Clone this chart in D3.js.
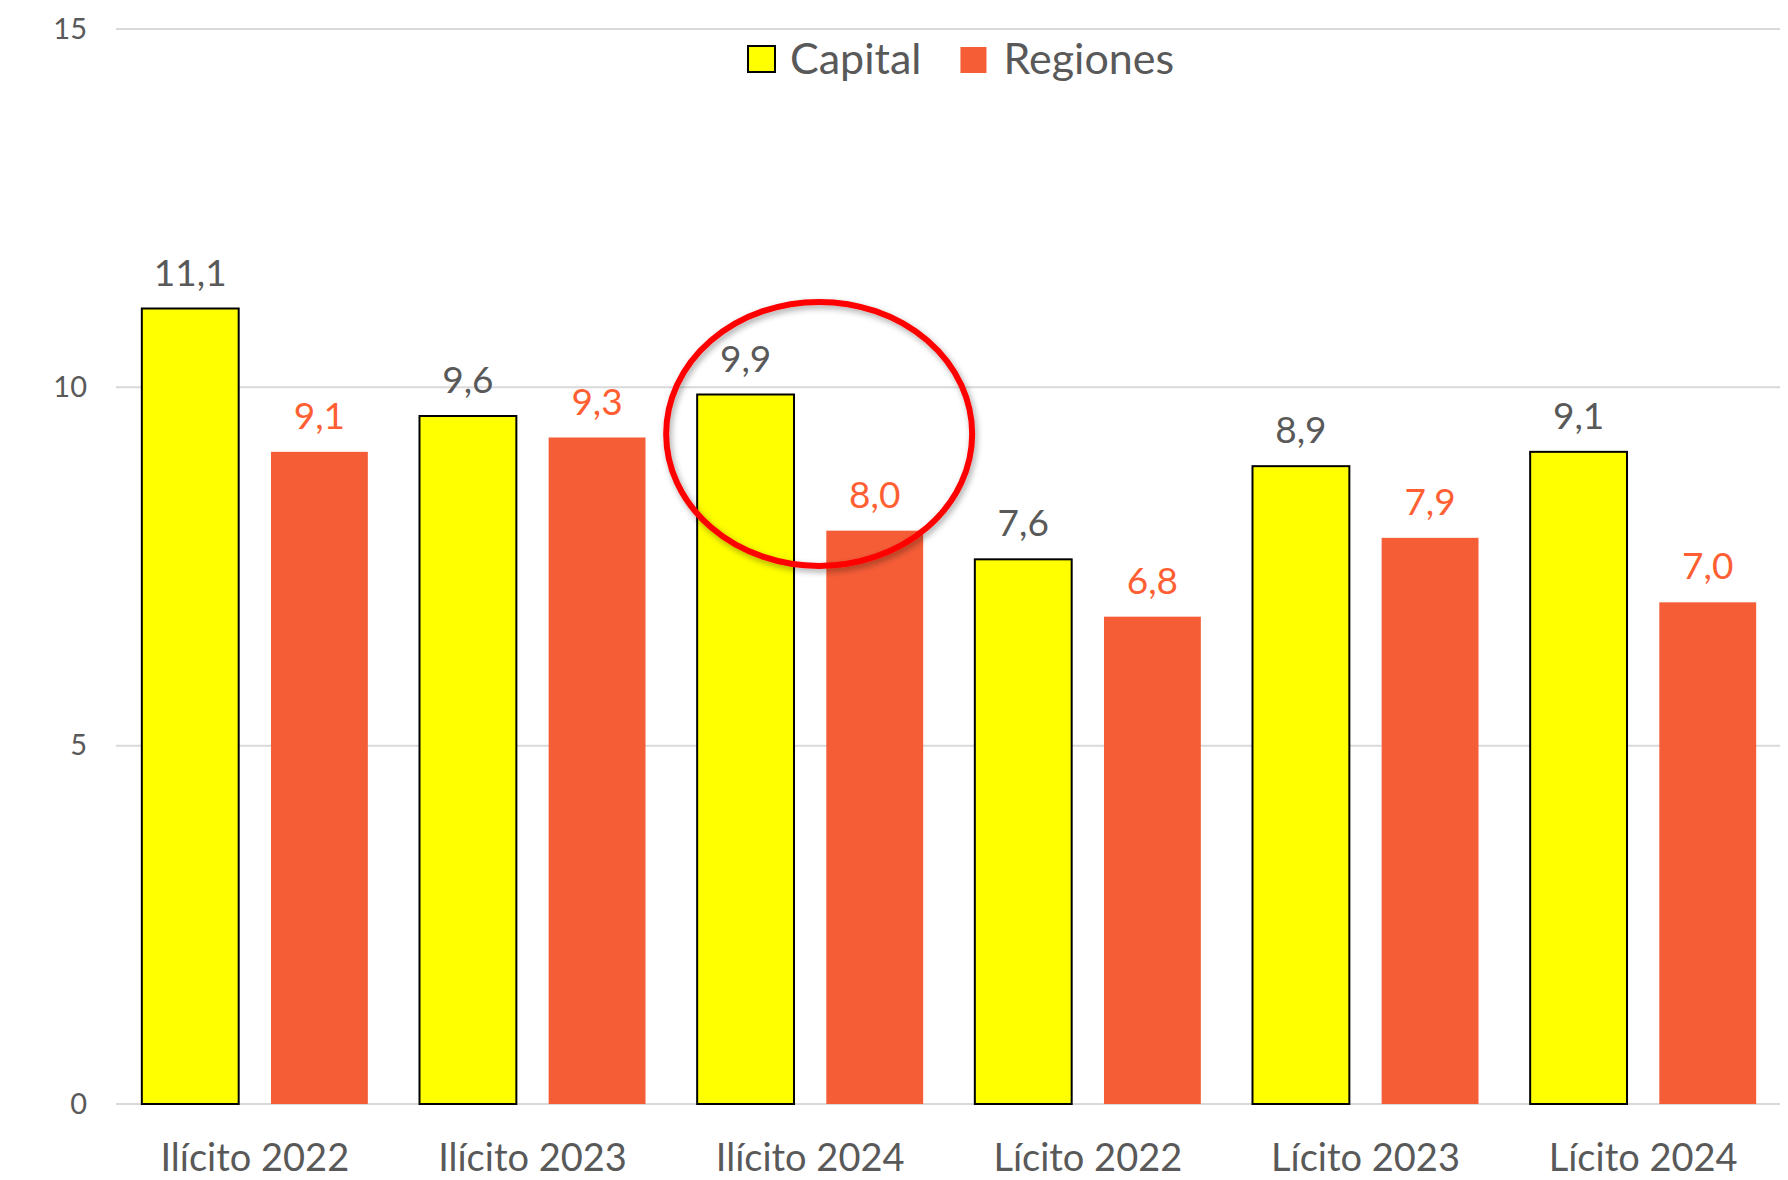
<!DOCTYPE html>
<html>
<head>
<meta charset="UTF-8">
<title>Capital vs Regiones</title>
<script src="https://cdnjs.cloudflare.com/ajax/libs/d3/7.9.0/d3.min.js"></script>
<style>
  body { margin: 0; background: #fff; }
  svg { display: block; font-family: Lato, "Open Sans", sans-serif; }
</style>
</head>
<body>
<div id="chart"></div>
<script>
// data
const categories = ["Ilícito 2022", "Ilícito 2023", "Ilícito 2024", "Lícito 2022", "Lícito 2023", "Lícito 2024"];
const seriesNames = ["Capital", "Regiones"];
const capital = [11.1, 9.6, 9.9, 7.6, 8.9, 9.1];
const regiones = [9.1, 9.3, 8.0, 6.8, 7.9, 7.0];
const yTicks = [0, 5, 10, 15];

const colors = { Capital: "#FFFF00", Regiones: "#F55D37" };
const labelColors = { Capital: "#595959", Regiones: "#FF5F33" };

// layout
const W = 1788, H = 1180;
const margin = { top: 29, right: 6, bottom: 76, left: 116 };
const width = W - margin.left - margin.right;
const height = H - margin.top - margin.bottom;

const svg = d3.select("#chart").append("svg")
    .attr("width", W)
    .attr("height", H);

const defs = svg.append("defs");
defs.append("filter")
    .attr("id", "shadow")
    .attr("x", "-20%").attr("y", "-20%")
    .attr("width", "140%").attr("height", "140%")
  .append("feDropShadow")
    .attr("dx", 2).attr("dy", 3)
    .attr("stdDeviation", 3)
    .attr("flood-color", "#000")
    .attr("flood-opacity", 0.35);

const g = svg.append("g")
    .attr("transform", `translate(${margin.left},${margin.top})`);

// scales
const x0 = d3.scaleBand().domain(categories).range([0, width]).padding(0);
const x1 = d3.scaleBand().domain(seriesNames).range([0, x0.bandwidth()])
    .paddingInner(0.25).paddingOuter(0.2);
const y = d3.scaleLinear().domain([0, 15]).range([height, 0]);

// gridlines
g.append("g")
    .selectAll("line")
    .data(yTicks)
    .join("line")
    .attr("x1", 0)
    .attr("x2", width - 2)
    .attr("y1", d => y(d))
    .attr("y2", d => y(d))
    .attr("stroke", "#D9D9D9")
    .attr("stroke-width", 2);

// y axis labels
const yAxis = d3.axisLeft(y).tickValues(yTicks).tickSize(0).tickPadding(29);
g.append("g")
    .call(yAxis)
    .call(a => a.select(".domain").remove())
    .selectAll("text")
    .attr("fill", "#595959")
    .style("font-size", "29px")
    .style("font-family", "Lato, sans-serif");

// bars
const rows = categories.map((c, i) => ({
    cat: c,
    vals: [{ key: "Capital", v: capital[i] }, { key: "Regiones", v: regiones[i] }]
}));

const groups = g.append("g")
    .selectAll("g")
    .data(rows)
    .join("g")
    .attr("transform", d => `translate(${x0(d.cat)},0)`);

groups.selectAll("rect")
    .data(d => d.vals)
    .join("rect")
    .attr("x", d => x1(d.key))
    .attr("y", d => y(d.v))
    .attr("width", x1.bandwidth())
    .attr("height", d => y(0) - y(d.v))
    .attr("fill", d => colors[d.key])
    .attr("stroke", d => d.key === "Capital" ? "#000" : "none")
    .attr("stroke-width", 2);

groups.selectAll("text")
    .data(d => d.vals)
    .join("text")
    .attr("x", d => x1(d.key) + x1.bandwidth() / 2)
    .attr("y", d => y(d.v) - 23)
    .attr("text-anchor", "middle")
    .attr("fill", d => labelColors[d.key])
    .style("font-size", "37px")
    .text(d => d.v.toFixed(1).replace(".", ","));

// x axis labels
const xAxis = d3.axisBottom(x0).tickSize(0).tickPadding(40);
g.append("g")
    .attr("transform", `translate(0,${height})`)
    .call(xAxis)
    .call(a => a.select(".domain").remove())
    .selectAll("text")
    .attr("fill", "#595959")
    .style("font-size", "38px")
    .style("font-family", "Lato, sans-serif");

// highlight ellipse around Ilícito 2024
const hlCat = "Ilícito 2024";
const hlVal = 9.35;
g.append("ellipse")
    .attr("cx", x0(hlCat) + x0.bandwidth() / 2 + 9)
    .attr("cy", y(hlVal))
    .attr("rx", 153)
    .attr("ry", 132)
    .attr("fill", "none")
    .attr("stroke", "#FF0000")
    .attr("stroke-width", 6)
    .attr("filter", "url(#shadow)");

// legend
const legend = svg.append("g").attr("transform", "translate(747,0)");
let lx = 0;
seriesNames.forEach(name => {
    const item = legend.append("g").attr("transform", `translate(${lx},0)`);
    item.append("rect")
        .attr("x", name === "Capital" ? 1 : 0)
        .attr("y", name === "Capital" ? 46 : 47)
        .attr("width", name === "Capital" ? 27 : 26)
        .attr("height", 26)
        .attr("fill", colors[name])
        .attr("stroke", name === "Capital" ? "#000" : "none")
        .attr("stroke-width", 2);
    const t = item.append("text")
        .attr("x", 43)
        .attr("y", 74)
        .attr("fill", "#595959")
        .style("font-size", "43px")
        .text(name);
    lx += 43 + t.node().getComputedTextLength() + 39;
});
</script>
</body>
</html>
